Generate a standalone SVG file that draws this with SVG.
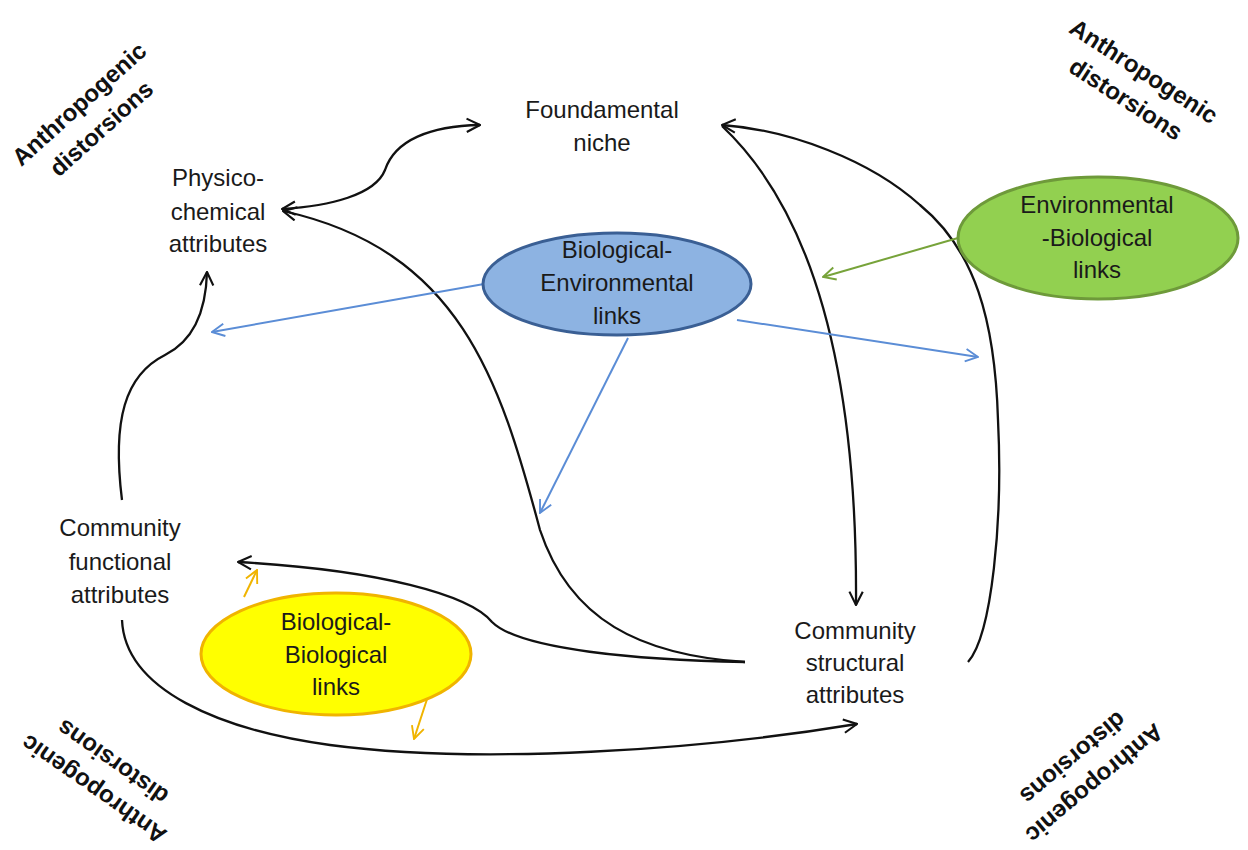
<svg xmlns="http://www.w3.org/2000/svg" width="1248" height="850" viewBox="0 0 1248 850">
<style>
text{font-family:"Liberation Sans",Arial,sans-serif;font-size:24px;fill:#1a1a1a;text-anchor:middle}
.corner text{font-weight:bold;font-size:24px;fill:#111}
.blk{fill:none;stroke:#111;stroke-width:2.3}
.blue{fill:none;stroke:#5b8dd6;stroke-width:2}
.green{fill:none;stroke:#77a33a;stroke-width:2}
.yel{fill:none;stroke:#f0b400;stroke-width:2}
</style>
<defs>
<marker id="ak" viewBox="0 0 12 12" refX="11" refY="6" markerWidth="16" markerHeight="16" markerUnits="userSpaceOnUse" orient="auto-start-reverse"><path d="M1,1 L11,6 L1,11" fill="none" stroke="#111" stroke-width="1.6"/></marker>
<marker id="ab" viewBox="0 0 12 12" refX="11" refY="6" markerWidth="15" markerHeight="15" markerUnits="userSpaceOnUse" orient="auto"><path d="M1,1 L11,6 L1,11" fill="none" stroke="#5b8dd6" stroke-width="1.5"/></marker>
<marker id="ag" viewBox="0 0 12 12" refX="11" refY="6" markerWidth="15" markerHeight="15" markerUnits="userSpaceOnUse" orient="auto"><path d="M1,1 L11,6 L1,11" fill="none" stroke="#77a33a" stroke-width="1.5"/></marker>
<marker id="ay" viewBox="0 0 12 12" refX="11" refY="6" markerWidth="15" markerHeight="15" markerUnits="userSpaceOnUse" orient="auto"><path d="M1,1 L11,6 L1,11" fill="none" stroke="#f0b400" stroke-width="1.5"/></marker>
</defs>
<rect width="1248" height="850" fill="#fff"/>

<g id="connectors">
<path class="blk" d="M282,209 C330,206 375,195 385,170 C395,140 430,126 480,125" marker-start="url(#ak)" marker-end="url(#ak)"/>
<path class="blk" d="M745,662 C640,655 570,620 540,530 C500,380 460,250 283,211" marker-end="url(#ak)"/>
<path class="blk" d="M745,662 C640,660 520,650 492,622 C470,595 380,570 238,562" marker-end="url(#ak)"/>
<path class="blk" d="M122,620 C125,690 220,730 330,745 C480,765 700,750 857,724" marker-end="url(#ak)"/>
<path class="blk" d="M122,500 C112,420 125,375 165,355 C195,340 206,310 207,272" marker-end="url(#ak)"/>
<path class="blk" d="M722,126 C790,190 858,320 856,605" marker-end="url(#ak)"/>
<path class="blk" d="M968,662 C992,635 1003,520 998,420 C995,320 975,250 920,205 C870,160 790,130 722,125" marker-end="url(#ak)"/>
<path class="blue" d="M484,284 L212,332" marker-end="url(#ab)"/>
<path class="blue" d="M737,320 L978,357" marker-end="url(#ab)"/>
<path class="blue" d="M628,338 L540,513" marker-end="url(#ab)"/>
<path class="green" d="M958,238 L823,277" marker-end="url(#ag)"/>
<path class="yel" d="M244,597 L257,570" marker-end="url(#ay)"/>
<path class="yel" d="M430,690 L414,739" marker-end="url(#ay)"/>
</g>

<g id="fundamental-niche"><text x="602" y="118">Foundamental</text><text x="602" y="151">niche</text></g>
<g id="physico-chemical"><text x="218" y="186">Physico-</text><text x="218" y="220">chemical</text><text x="218" y="252">attributes</text></g>
<g id="community-functional"><text x="120" y="536">Community</text><text x="120" y="570">functional</text><text x="120" y="603">attributes</text></g>
<g id="community-structural"><text x="855" y="639">Community</text><text x="855" y="671">structural</text><text x="855" y="703">attributes</text></g>

<g id="bio-env">
<ellipse cx="617" cy="284" rx="134" ry="51" fill="#8db3e2" stroke="#3a5f94" stroke-width="3"/>
<text x="617" y="258">Biological-</text><text x="617" y="291">Environmental</text><text x="617" y="324">links</text>
</g>
<g id="env-bio">
<ellipse cx="1098" cy="238" rx="140" ry="61" fill="#92d050" stroke="#6e9a3a" stroke-width="3"/>
<text x="1097" y="213">Environmental</text><text x="1097" y="246">-Biological</text><text x="1097" y="278">links</text>
</g>
<g id="bio-bio">
<ellipse cx="336" cy="654" rx="135" ry="61" fill="#ffff00" stroke="#f0b400" stroke-width="3"/>
<text x="336" y="630">Biological-</text><text x="336" y="663">Biological</text><text x="336" y="695">links</text>
</g>

<g class="corner" id="corner-tl" transform="translate(90,116) rotate(-42)"><text x="0" y="-8">Anthropogenic</text><text x="0" y="25">distorsions</text></g>
<g class="corner" id="corner-tr" transform="translate(1135,85) rotate(33)"><text x="0" y="-8">Anthropogenic</text><text x="0" y="25">distorsions</text></g>
<g class="corner" id="corner-bl" transform="translate(103,776) rotate(-145)"><text x="0" y="-8">Anthropogenic</text><text x="0" y="25">distorsions</text></g>
<g class="corner" id="corner-br" transform="translate(1084,771) rotate(140)"><text x="0" y="-8">Anthropogenic</text><text x="0" y="25">distorsions</text></g>
</svg>
